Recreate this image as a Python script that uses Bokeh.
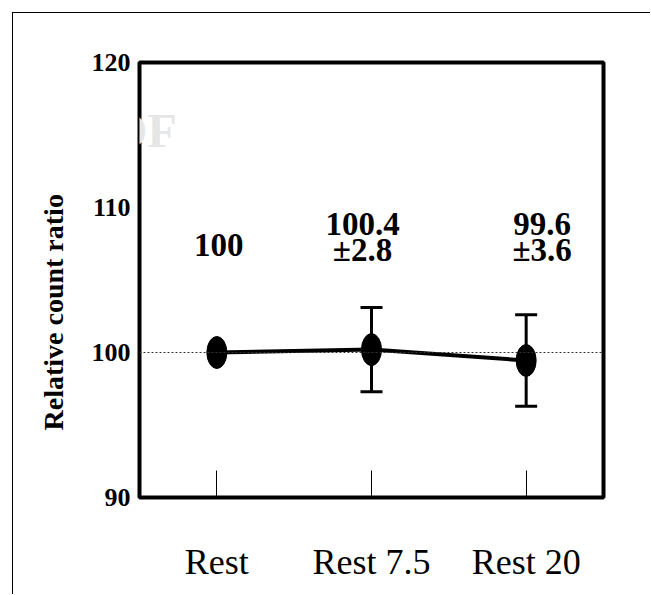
from bokeh.plotting import figure
from bokeh.models import (ColumnDataSource, Range1d, FactorRange, FixedTicker, Span,
                          Whisker, TeeHead, Label, Title)
from bokeh.core.properties import value
from bokeh.embed import file_html
from bokeh.resources import INLINE

# ---- data ----
categories = ["Rest", "Rest 7.5", "Rest 20"]
mean_values = [100.0, 100.2, 99.45]
sd_values = [0.0, 2.9, 3.15]
mean_labels = ["100", "100.4", "99.6"]
sd_labels = ["", "\u00b12.8", "\u00b13.6"]
y_ticks = [90, 100, 110, 120]
y_label = "Relative count ratio"
watermark_lines = ["SOCIETY OF", "NUCLEAR", "MEDICINE"]

SERIF = "Liberation Serif"

p = figure(width=638, height=582,
           x_range=FactorRange(factors=categories),
           y_range=Range1d(90, 120),
           output_backend="svg", toolbar_location=None,
           min_border_left=126, min_border_right=48,
           min_border_top=49, min_border_bottom=98)
p.margin = (12, 0, 0, 12)
p.styles = {"border-left": "1px solid black", "border-top": "1px solid black"}
p.grid.visible = False
p.outline_line_color = "black"
p.outline_line_width = 4
p.background_fill_color = "white"
p.border_fill_color = "white"

# watermark (only the part over the plot area is visible)
wm_x = [164, 102, 117]
wm_y = [116, 164, 220]
for t, wx, wy in zip(watermark_lines, wm_x, wm_y):
    p.add_layout(Label(x=wx, y=wy, x_units="canvas", y_units="canvas", text=t,
                       text_align="right", text_baseline="middle",
                       text_font=SERIF, text_font_style="bold", text_font_size="48px",
                       text_color="#e6e6e6", level="underlay"))

# axes
xa = p.xaxis[0]
xa.axis_line_color = None
xa.major_tick_in = 27
xa.major_tick_out = 0
xa.major_tick_line_width = 1
xa.major_tick_line_color = "black"
xa.major_label_standoff = 44
xa.major_label_text_font = SERIF
xa.major_label_text_font_size = "36px"
xa.major_label_text_color = "black"

ya = p.yaxis[0]
ya.ticker = FixedTicker(ticks=y_ticks)
ya.axis_line_color = None
ya.major_tick_in = 0
ya.major_tick_out = 0
ya.minor_tick_in = 0
ya.minor_tick_out = 0
ya.major_label_standoff = 9
ya.major_label_text_font = SERIF
ya.major_label_text_font_style = "bold"
ya.major_label_text_font_size = "26px"
ya.major_label_text_color = "black"

p.add_layout(Title(text=y_label, align="left", offset=67, standoff=39,
                   text_font=SERIF, text_font_style="bold", text_font_size="28px",
                   text_color="black"), "left")

# reference line at 100
p.add_layout(Span(location=100, dimension="width", line_color="#333333",
                  line_width=1, line_dash="2 2"))

src = ColumnDataSource(dict(x=categories, y=mean_values))

p.line("x", "y", source=src, line_color="black", line_width=4)

eb_idx = [i for i, s in enumerate(sd_values) if s > 0]
eb_src = ColumnDataSource(dict(x=[categories[i] for i in eb_idx],
                               upper=[mean_values[i] + sd_values[i] for i in eb_idx],
                               lower=[mean_values[i] - sd_values[i] for i in eb_idx]))
p.add_layout(Whisker(source=eb_src, base="x", upper="upper", lower="lower",
                     line_color="black", line_width=3,
                     upper_head=TeeHead(size=22, line_width=3, line_color="black"),
                     lower_head=TeeHead(size=22, line_width=3, line_color="black")))

p.ellipse("x", "y", source=src, width=20, height=32, width_units="screen",
          height_units="screen", fill_color="black", line_color="black")

# value annotations
label_dx = [2, -9, 16]
mean_y = [107.38, 108.83, 108.83]
sd_y = [107.1, 107.1, 107.1]
txt_src = ColumnDataSource(dict(x=categories, my=mean_y, sy=sd_y,
                                mt=mean_labels, st=sd_labels, dx=label_dx))
p.text("x", "my", text="mt", x_offset="dx", source=txt_src, text_align="center",
       text_baseline="middle", text_font=value(SERIF), text_font_style="bold",
       text_font_size="33px", text_color="black")
p.text("x", "sy", text="st", x_offset="dx", source=txt_src, text_align="center",
       text_baseline="middle", text_font=value(SERIF), text_font_style="bold",
       text_font_size="33px", text_color="black")

open("out.html", "w").write(file_html(p, INLINE))
